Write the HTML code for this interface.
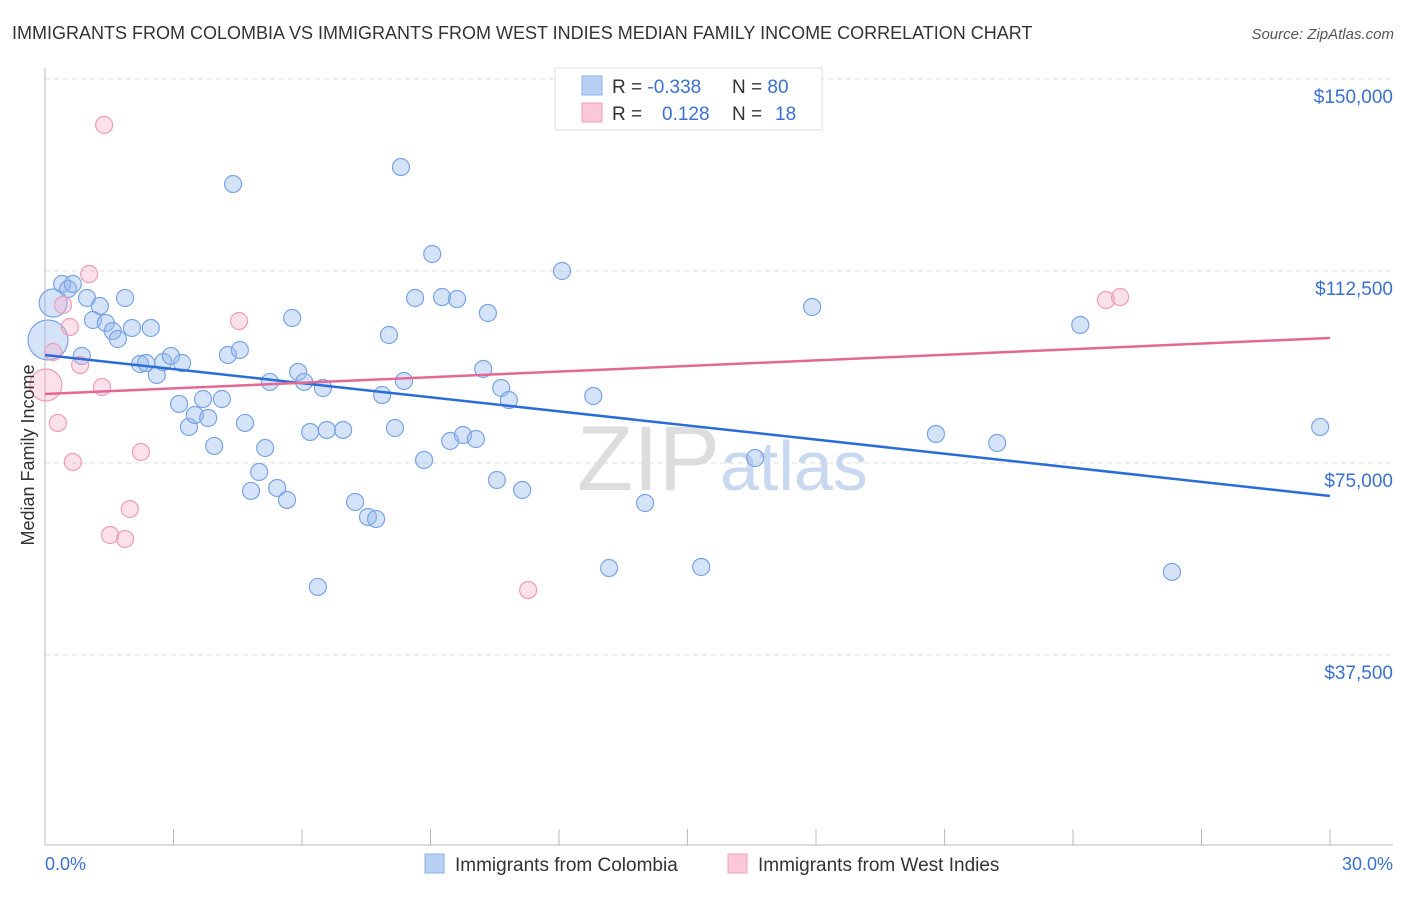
<!DOCTYPE html>
<html><head><meta charset="utf-8"><style>
body{margin:0;background:#fff;font-family:"Liberation Sans",sans-serif;}
svg text{font-family:"Liberation Sans",sans-serif;}
</style></head><body>
<svg width="1406" height="892" xmlns="http://www.w3.org/2000/svg">
<text x="12" y="39" font-size="18" fill="#333">IMMIGRANTS FROM COLOMBIA VS IMMIGRANTS FROM WEST INDIES MEDIAN FAMILY INCOME CORRELATION CHART</text>
<text x="1394" y="39" font-size="15" fill="#555" text-anchor="end" font-style="italic">Source: ZipAtlas.com</text>
<g id="grid"></g>
<text x="720" y="490" font-size="92" fill="#ddd" text-anchor="end" font-family="Liberation Serif">ZIP</text>
<text x="720" y="490" font-size="70" fill="#c8d8f0">atlas</text>
<g id="pts"></g>
<g id="trend"></g>
<text x="34" y="455" font-size="18" fill="#333" text-anchor="middle" transform="rotate(-90 34 455)">Median Family Income</text>
<text x="45" y="870" font-size="18" fill="#3a70d0">0.0%</text>
<text x="1393" y="870" font-size="18" fill="#3a70d0" text-anchor="end">30.0%</text>
<g>
<rect x="555" y="68" width="267" height="62" fill="#fff" stroke="#ddd"/>
<rect x="582" y="76" width="20" height="19" fill="#b8d0f4" stroke="#8ab0e8"/>
<rect x="582" y="103" width="20" height="19" fill="#fbc8d8" stroke="#f0a0bc"/>
<text x="612" y="93" font-size="19" fill="#333">R = <tspan fill="#3a70d0">-0.338</tspan></text>
<text x="732" y="93" font-size="19" fill="#333">N = <tspan fill="#3a70d0">80</tspan></text>
<text x="612" y="120" font-size="19" fill="#333">R = <tspan fill="#3a70d0" x="662">0.128</tspan></text>
<text x="732" y="120" font-size="19" fill="#333">N = <tspan fill="#3a70d0" x="775">18</tspan></text>
</g>
<g>
<rect x="425" y="854" width="19" height="19" fill="#b8d0f4" stroke="#8ab0e8"/>
<text x="455" y="871" font-size="19" fill="#333">Immigrants from Colombia</text>
<rect x="728" y="854" width="19" height="19" fill="#fbc8d8" stroke="#f0a0bc"/>
<text x="758" y="871" font-size="19" fill="#333">Immigrants from West Indies</text>
</g>
</svg>
<script>
const yTicks=[150000,112500,75000,37500];
const yTickLabels=["$150,000","$112,500","$75,000","$37,500"];
const xTicks=[0,3,6,9,12,15,18,21,24,27,30];
const colX=[0.19,0.07,0.4,0.54,0.65,0.98,1.28,1.12,1.42,1.58,1.7,1.87,2.03,2.47,0.86,2.22,2.36,2.61,2.76,2.94,3.2,3.13,3.36,3.5,3.69,3.81,4.13,3.95,4.27,4.55,4.39,4.67,5.14,5.0,4.81,5.42,5.65,5.25,5.77,5.91,6.05,6.49,6.19,6.58,6.96,6.37,7.24,7.54,7.73,7.87,8.03,8.17,8.31,8.38,8.64,8.85,9.04,9.27,9.62,9.46,9.76,10.06,10.23,10.34,10.55,10.65,10.83,11.14,12.07,12.8,13.17,14.01,15.32,16.58,17.91,20.8,22.23,24.17,26.31,29.77];
const colY=[106250,99030,109960,108990,109960,107230,105670,102930,102350,100780,99220,107230,101370,101370,95900,94340,94530,92190,94730,95900,94530,86530,82040,84380,87500,83790,87500,78330,96100,97070,129490,82820,77930,73250,69540,70120,67780,90830,103320,92780,90830,89650,81060,81450,81450,50790,67390,64460,64070,88280,100000,81840,132810,91020,107230,75590,115820,107420,107030,79300,80470,79690,93360,104300,71680,89650,87300,69730,112500,88090,54490,67190,54690,75980,105470,80670,78910,101960,53720,82040];
const colSize=[14,20];
const wiX=[0.02,0.19,0.42,0.58,0.82,0.3,0.65,1.03,1.33,1.38,1.52,1.87,1.98,2.24,4.53,11.28,24.77,25.1];
const wiY=[90240,96680,105860,101560,94140,82820,75200,111910,89840,141020,60940,60160,66020,77150,102730,50200,106840,107420];
const colTrend=[96100,68560];
const wiTrend=[88480,99420];
const X=v=>45+v*(1285/30), Y=v=>847-v*(192/37500);
const NS="http://www.w3.org/2000/svg";
function mk(tag,attrs,parent){const e=document.createElementNS(NS,tag);for(const k in attrs)e.setAttribute(k,attrs[k]);parent.appendChild(e);return e;}
const grid=document.getElementById('grid');
yTicks.forEach((t,i)=>{
 const l=mk('line',{x1:45,x2:1393,y1:Y(t),y2:Y(t),stroke:'#ddd','stroke-dasharray':'5,4'},grid);
 
 
 const tx=mk('text',{x:1393,y:Y(t)+24,'font-size':19,fill:'#3a70d0','text-anchor':'end'},grid);
 tx.textContent=yTickLabels[i];
 
 
});
const ax=mk('line',{x1:45,x2:1393,y1:845,y2:845,stroke:'#bbb'},grid);


const ay=mk('line',{x1:45,x2:45,y1:68,y2:845,stroke:'#bbb'},grid);


xTicks.forEach(t=>{const l=mk('line',{x1:X(t),x2:X(t),y1:829,y2:845,stroke:'#bbb'},grid);
 
 });
const pts=document.getElementById('pts');
colX.forEach((x,i)=>{const r=i<colSize.length?colSize[i]:8.5;
 const c=mk('circle',{cx:X(x),cy:Y(colY[i]),r:r,fill:'rgba(150,185,240,0.4)',stroke:'#7aa4e4','stroke-width':1.2},pts);
 
 });
wiX.forEach((x,i)=>{const r=i===0?16:8.5;
 const c=mk('circle',{cx:X(x),cy:Y(wiY[i]),r:r,fill:'rgba(245,170,195,0.35)',stroke:'#ee9cb8','stroke-width':1.2},pts);
 
 });
const tr=document.getElementById('trend');
const l1=mk('line',{x1:X(0),x2:X(30),y1:Y(colTrend[0]),y2:Y(colTrend[1]),stroke:'#2a6dd6','stroke-width':2.5},tr);


const l2=mk('line',{x1:X(0),x2:X(30),y1:Y(wiTrend[0]),y2:Y(wiTrend[1]),stroke:'#e46894','stroke-width':2.5},tr);


</script>
</body></html>
